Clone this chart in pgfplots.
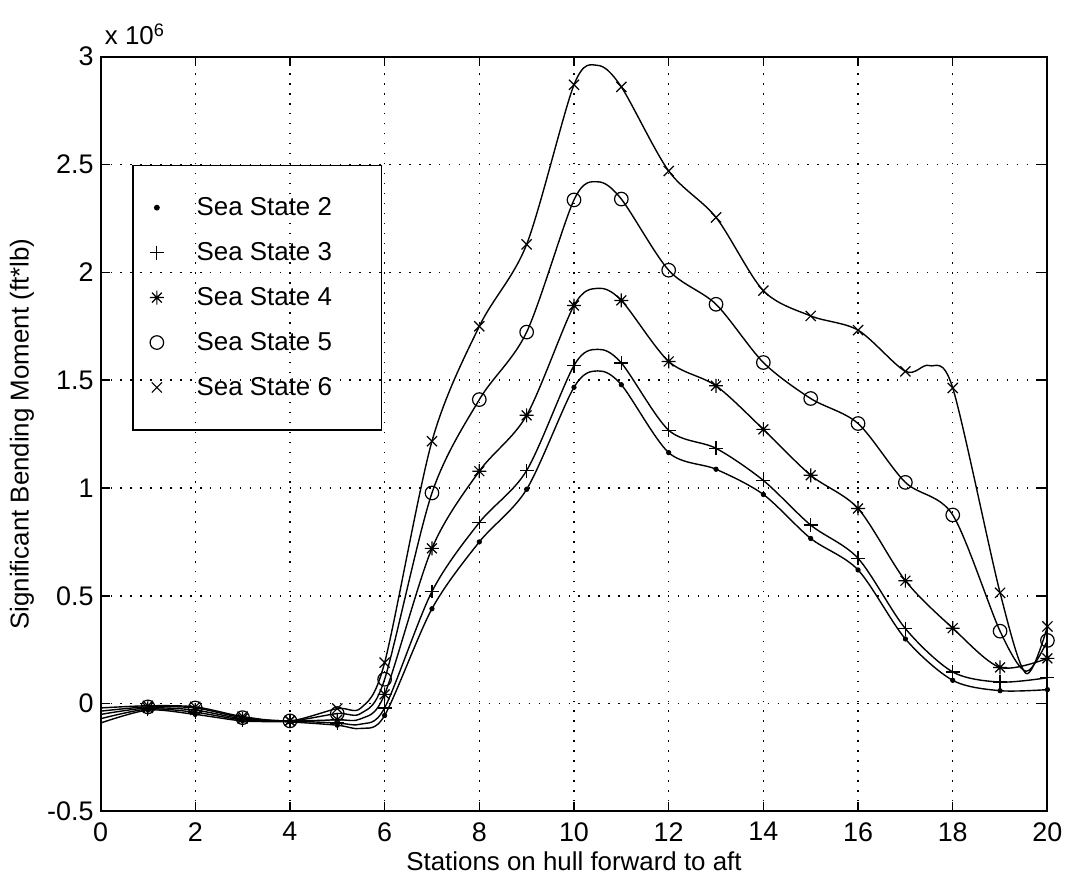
\documentclass[border=0pt]{standalone}
\usepackage{pgfplots}
\pgfplotsset{compat=1.18}
\usepackage{fontspec}
\setmainfont{Liberation Sans}

\pgfdeclareplotmark{mstar}{%
 \pgfpathmoveto{\pgfqpoint{-\pgfplotmarksize}{0pt}}\pgfpathlineto{\pgfqpoint{\pgfplotmarksize}{0pt}}%
 \pgfpathmoveto{\pgfqpoint{0pt}{-\pgfplotmarksize}}\pgfpathlineto{\pgfqpoint{0pt}{\pgfplotmarksize}}%
 \pgfpathmoveto{\pgfqpoint{-0.7071\pgfplotmarksize}{-0.7071\pgfplotmarksize}}\pgfpathlineto{\pgfqpoint{0.7071\pgfplotmarksize}{0.7071\pgfplotmarksize}}%
 \pgfpathmoveto{\pgfqpoint{-0.7071\pgfplotmarksize}{0.7071\pgfplotmarksize}}\pgfpathlineto{\pgfqpoint{0.7071\pgfplotmarksize}{-0.7071\pgfplotmarksize}}%
 \pgfusepathqstroke}

% values in units of 10^6 ft*lb
\pgfplotstableread{
x y
0 -0.09
1 -0.03
2 -0.05
3 -0.08
4 -0.085
5 -0.10
5.5 -0.115
6 -0.055
7 0.44
8 0.75
9 0.994
10 1.467
10.5 1.543
11 1.479
12 1.164
13 1.087
14 0.97
15 0.766
16 0.62
17 0.30
18 0.108
19 0.06
20 0.065
}\sstwo
\pgfplotstableread{
x y
0 -0.07
1 -0.025
2 -0.04
3 -0.075
4 -0.08
5 -0.09
5.5 -0.095
6 -0.02
7 0.52
8 0.84
9 1.081
10 1.568
10.5 1.643
11 1.58
12 1.268
13 1.184
14 1.035
15 0.828
16 0.674
17 0.348
18 0.147
19 0.10
20 0.12
}\ssthree
\pgfplotstableread{
x y
0 -0.05
1 -0.02
2 -0.03
3 -0.07
4 -0.08
5 -0.075
5.5 -0.07
6 0.043
7 0.72
8 1.078
9 1.337
10 1.846
10.5 1.926
11 1.87
12 1.587
13 1.474
14 1.272
15 1.059
16 0.905
17 0.57
18 0.35
19 0.168
20 0.21
}\ssfour
\pgfplotstableread{
x y
0 -0.035
1 -0.015
2 -0.02
3 -0.065
4 -0.08
5 -0.046
5.5 -0.045
6 0.113
7 0.977
8 1.41
9 1.723
10 2.336
10.5 2.42
11 2.34
12 2.01
13 1.852
14 1.582
15 1.415
16 1.299
17 1.026
18 0.875
19 0.336
19.55 0.15
20 0.293
}\ssfive
\pgfplotstableread{
x y
0 -0.02
1 -0.01
2 -0.015
3 -0.06
4 -0.08
5 -0.023
5.5 -0.02
6 0.19
7 1.217
8 1.75
9 2.13
10 2.87
10.5 2.96
11 2.86
12 2.47
13 2.255
14 1.915
15 1.798
16 1.732
17 1.541
17.5 1.568
18 1.464
19 0.514
19.55 0.14
20 0.358
}\sssix

\begin{document}
\begin{tikzpicture}
\begin{axis}[
  scale only axis, width=475.5pt, height=379pt,
  xmin=0, xmax=20, ymin=-0.5, ymax=3,
  xtick={0,2,...,20}, ytick={-0.5,0,0.5,1,1.5,2,2.5,3},
  scaled y ticks=false,
  /pgf/number format/assume math mode=true,
  yticklabel style={/pgf/number format/fixed, /pgf/number format/precision=1},
  tick align=inside, major tick length=4.5pt,
  tick style={black, line width=0.7pt},
  axis line style={line width=1pt},
  grid=major,
  grid style={black, line width=0.7pt, dash pattern=on 0.7pt off 4.3pt},
  tick label style={font=\fontsize{13.5}{16}\selectfont},
  xticklabel style={yshift=-2pt},
  label style={font=\fontsize{13}{15}\selectfont},
  xlabel={Stations on hull forward to aft},
  ylabel={Significant Bending Moment (ft*lb)},
  xlabel style={at={(axis description cs:0.5,-0.066)}, anchor=center},
  ylabel style={at={(axis description cs:-0.083,0.5)}, anchor=center},
  legend style={at={(axis cs:0.67,2.5)}, anchor=north west, draw=black, fill=none,
    line width=0.7pt, inner xsep=8.5pt, inner ysep=14pt, row sep=8pt,
    font=\fontsize{13}{15}\selectfont},
  legend cell align=left,
  every axis plot/.append style={black},
  /tikz/every odd column/.append style={column sep=14.5pt},
]
\coordinate (bl) at (rel axis cs:0,0);
\coordinate (tr) at (rel axis cs:1,1);
\coordinate (tl) at (rel axis cs:0,1);
% smooth curves
\addplot[smooth, line width=0.7pt, forget plot] table {\sstwo};
\addplot[smooth, line width=0.7pt, forget plot] table {\ssthree};
\addplot[smooth, line width=0.7pt, forget plot] table {\ssfour};
\addplot[smooth, line width=0.7pt, forget plot] table {\ssfive};
\addplot[smooth, line width=0.7pt, forget plot] table {\sssix};
% markers at stations
\addplot[only marks, mark=*, mark size=1.1pt] coordinates {
(1,-0.03)(2,-0.05)(3,-0.08)(4,-0.085)(5,-0.10)(6,-0.055)(7,0.44)(8,0.75)(9,0.994)(10,1.467)
(11,1.479)(12,1.164)(13,1.087)(14,0.97)(15,0.766)(16,0.62)(17,0.30)(18,0.108)(19,0.06)(20,0.065)};
\addlegendentry{Sea State 2\hspace*{14.5pt}}
\addplot[only marks, mark=+, mark size=3.5pt, mark options={line width=0.6pt}] coordinates {
(1,-0.025)(2,-0.04)(3,-0.075)(4,-0.08)(5,-0.09)(6,-0.02)(7,0.52)(8,0.84)(9,1.081)(10,1.568)
(11,1.58)(12,1.268)(13,1.184)(14,1.035)(15,0.828)(16,0.674)(17,0.348)(18,0.147)(19,0.10)(20,0.12)};
\addlegendentry{Sea State 3\hspace*{14.5pt}}
\addplot[only marks, mark=mstar, mark size=3.5pt, mark options={line width=0.6pt}] coordinates {
(1,-0.02)(2,-0.03)(3,-0.07)(4,-0.08)(5,-0.075)(6,0.043)(7,0.72)(8,1.078)(9,1.337)(10,1.846)
(11,1.87)(12,1.587)(13,1.474)(14,1.272)(15,1.059)(16,0.905)(17,0.57)(18,0.35)(19,0.168)(20,0.21)};
\addlegendentry{Sea State 4\hspace*{14.5pt}}
\addplot[only marks, mark=o, mark size=3.4pt, mark options={line width=0.6pt}] coordinates {
(1,-0.015)(2,-0.02)(3,-0.065)(4,-0.08)(5,-0.046)(6,0.113)(7,0.977)(8,1.41)(9,1.723)(10,2.336)
(11,2.34)(12,2.01)(13,1.852)(14,1.582)(15,1.415)(16,1.299)(17,1.026)(18,0.875)(19,0.336)(20,0.293)};
\addlegendentry{Sea State 5\hspace*{14.5pt}}
\addplot[only marks, mark=x, mark size=3.6pt, mark options={line width=0.6pt}] coordinates {
(1,-0.01)(2,-0.015)(3,-0.06)(4,-0.08)(5,-0.023)(6,0.19)(7,1.217)(8,1.75)(9,2.13)(10,2.87)
(11,2.86)(12,2.47)(13,2.255)(14,1.915)(15,1.798)(16,1.732)(17,1.541)(18,1.464)(19,0.514)(20,0.358)};
\addlegendentry{Sea State 6\hspace*{14.5pt}}
\end{axis}
\node[anchor=base west, font=\fontsize{13}{15}\selectfont, inner sep=0pt] at ([xshift=2pt,yshift=6pt]tl) {x 10\textsuperscript{6}};
\path (bl) ++(-50.5pt,-32.5pt);
\path (tr) ++(8.5pt,28.5pt);
\end{tikzpicture}
\end{document}
